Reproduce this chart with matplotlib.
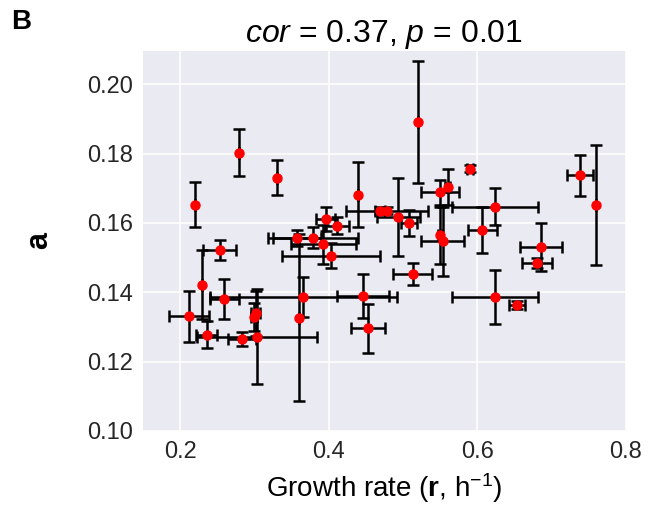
import numpy as np
import matplotlib
matplotlib.use('Agg')
import matplotlib.pyplot as plt

plt.rcParams['font.family'] = ['Liberation Sans', 'DejaVu Sans']
plt.rcParams['mathtext.fontset'] = 'custom'
plt.rcParams['mathtext.rm'] = 'Liberation Sans'
plt.rcParams['mathtext.it'] = 'Liberation Sans:italic'
plt.rcParams['mathtext.bf'] = 'Liberation Sans:bold'

# growth rate r (x) and parameter a (y) with their errors
r = [0.2198, 0.2798, 0.330, 0.4398, 0.469, 0.4788, 0.5201, 0.590, 0.5497, 0.560,
     0.4937, 0.508, 0.6237, 0.607, 0.738, 0.760, 0.6855, 0.680, 0.6237, 0.6533,
     0.513, 0.5497, 0.5533, 0.396, 0.4112, 0.3574, 0.3789, 0.3929, 0.4027, 0.3659,
     0.4465, 0.4533, 0.3597, 0.2534, 0.2296, 0.2596, 0.2125, 0.2359, 0.2834, 0.3032,
     0.302, 0.2999]
a = [0.1652, 0.1803, 0.1731, 0.1682, 0.1635, 0.1635, 0.1891, 0.1757, 0.1688, 0.1704,
     0.1617, 0.1600, 0.1647, 0.1580, 0.1737, 0.1652, 0.1530, 0.1484, 0.1386, 0.1363,
     0.1452, 0.1564, 0.1547, 0.1612, 0.1592, 0.1557, 0.1557, 0.1538, 0.1506, 0.1387,
     0.1390, 0.1296, 0.1327, 0.1522, 0.1422, 0.1381, 0.1331, 0.1278, 0.1266, 0.1272,
     0.1339, 0.1328]
r_err = [0, 0, 0, 0, 0.007, 0.0555, 0, 0.004, 0.026, 0.003,
         0.0287, 0.011, 0.0578, 0.02, 0.0175, 0, 0.0285, 0.02, 0.058, 0.011,
         0.026, 0.003, 0.029, 0.0128, 0.016, 0.032, 0.0605, 0.0437, 0.066, 0.126,
         0.035, 0.023, 0, 0.022, 0, 0.0195, 0.027, 0.014, 0.019, 0.0807,
         0.006, 0.004]
a_err = [0.0065, 0.0067, 0.005, 0.0095, 0.001, 0.001, 0.0176, 0.001, 0.0036, 0.0053,
         0.0113, 0.0038, 0.0053, 0.0066, 0.0059, 0.0172, 0.007, 0.0015, 0.0078, 0.0012,
         0.0032, 0.0083, 0.010, 0.0035, 0.0025, 0.0024, 0.003, 0.0056, 0.0035, 0.0057,
         0.0064, 0.007, 0.024, 0.003, 0.01, 0.0057, 0.0074, 0.0038, 0.002, 0.0138,
         0.0065, 0.004]

fig = plt.figure(figsize=(6.48, 5.23), dpi=100)
ax = fig.add_axes([0.2207, 0.176, 0.745, 0.7265])
ax.set_facecolor('#EAEAF2')
ax.grid(True, color='white', linewidth=1.1)
ax.set_axisbelow(True)
for s in ax.spines.values():
    s.set_visible(False)

ax.errorbar(r, a, xerr=r_err, yerr=a_err, fmt='none', ecolor='black',
            elinewidth=1.8, capsize=4, capthick=1.8, zorder=2)
ax.plot(r, a, 'o', color='red', markersize=6.5, zorder=3, linestyle='none')

ax.set_xlim(0.15, 0.8)
ax.set_ylim(0.10, 0.2096)
ax.set_xticks([0.2, 0.4, 0.6, 0.8])
ax.set_xticklabels(['0.2', '0.4', '0.6', '0.8'])
ax.set_yticks([0.10, 0.12, 0.14, 0.16, 0.18, 0.20])
ax.set_yticklabels(['0.10', '0.12', '0.14', '0.16', '0.18', '0.20'])
ax.tick_params(length=0, labelsize=17, pad=7, colors='#262626')

ax.set_xlabel(r'Growth rate ($\mathbf{r}$, h$^{-1}$)', fontsize=20, labelpad=6)
ax.set_ylabel('a', fontsize=22, fontweight='bold', labelpad=24)
ax.set_title(r'$\mathit{cor}$ = 0.37, $\mathit{p}$ = 0.01', fontsize=23, pad=4)
fig.text(0.017, 0.945, 'B', fontsize=20, fontweight='bold')

plt.savefig('out.png', dpi=100)
